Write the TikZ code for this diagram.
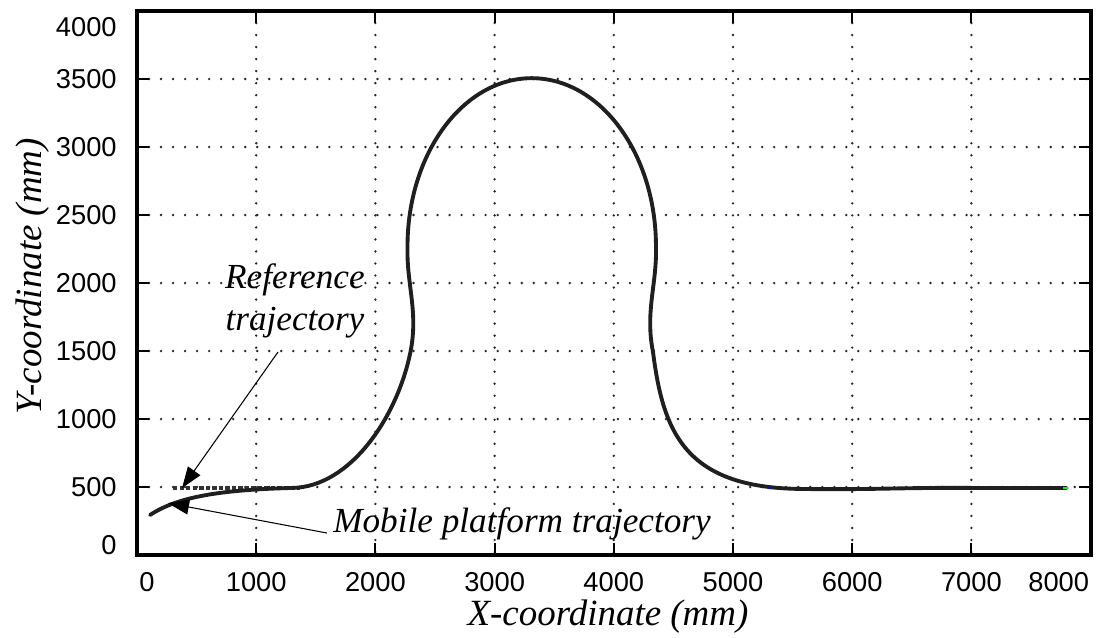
\documentclass[tikz,border=0pt]{standalone}
\usepackage{fontspec}
\setmainfont{Liberation Serif}
\newfontfamily\ticksf{Liberation Sans}
\usetikzlibrary{arrows.meta,calc}
\begin{document}
\begin{tikzpicture}[x=0.002384cm,y=0.00272cm,
 gridline/.style={line width=1.5pt, dash pattern=on 0pt off 6.83pt, line cap=round, black!85},
 frame/.style={line width=2.2pt, black},
 tickmark/.style={line width=1.2pt, black},
 ticklab/.style={font=\ticksf\fontsize{15.5}{18}\selectfont, inner sep=0pt},
 axtitle/.style={font=\itshape\fontsize{21}{25}\selectfont, inner sep=0pt},
 annot/.style={font=\itshape\fontsize{20}{24}\selectfont, inner sep=0pt},
 traj/.style={line width=2.2pt, black!88, line cap=round, line join=round},
 reftraj/.style={line width=2.2pt, black!80, dash pattern=on 2.5pt off 1.2pt},
 pointer/.style={line width=0.6pt, black, -{Triangle[length=0.42cm,width=0.3cm]}},
]
\useasboundingbox (-1149.3,-602.9) rectangle (8062.1,4080.9);
% grid
\foreach \x in {1000,2000,...,7000} \draw[gridline] (\x,4000) -- (\x,0);
\foreach \y in {500,1000,...,3500} \draw[gridline] (0,\y) -- (8000,\y);
% ticks
\foreach \x in {1000,2000,...,7000} {
  \draw[tickmark] (\x,0) -- (\x,88);
  \draw[tickmark] (\x,4000) -- (\x,3912);
}
\foreach \y in {500,1000,...,3500} {
  \draw[tickmark] (0,\y) -- (100,\y);
  \draw[tickmark] (8000,\y) -- (7900,\y);
}
% trajectories, drawn in pixel units of the reference
\begin{scope}[x=0.02cm,y=-0.02cm,shift={(-137,-555)}]
  \draw[reftraj] (173,488) -- (300,488);
  \draw[traj] (150,515) .. controls (176,498) and (215,490) .. (292,488)
    .. controls (350,487) and (397,417) .. (410,352)
    .. controls (418,312) and (406,285) .. (407,247)
    arc[start angle=180, end angle=360, x radius=124, y radius=168]
    .. controls (656,285) and (644,312) .. (652,352)
    .. controls (662,430) and (682,488) .. (800,489)
    .. controls (870,490) and (900,487.5) .. (970,488) -- (1065,488);
  \fill[blue] (767,487) rectangle (771,489.5);
  \fill[green] (1061,487) rectangle (1066,489.5);
\end{scope}
% frame
\draw[frame] (0,0) rectangle (8000,4000);
% tick labels
\node[ticklab, anchor=north west] (x0) at (17,-125) {0};
\foreach \x in {1000,2000,...,7000}
  \node[ticklab, anchor=north] (x\x) at (\x,-125) {\x};
\node[ticklab, anchor=north east] (x8000) at (7990,-125) {8000};
\node[ticklab, anchor=south east] (y0) at (-168,0) {0};
\foreach \y in {500,1000,...,3500}
  \node[ticklab, anchor=east] (y\y) at (-168,\y) {\y};
\node[ticklab, anchor=north east] (y4000) at (-168,3956) {4000};
% axis titles
\node[axtitle, anchor=base] (xtitle) at (3951,-515) {X-coordinate (mm)};
\node[axtitle, anchor=base, rotate=90] (ytitle) at (-797,2051) {Y-coordinate (mm)};
% annotations
\node[annot, anchor=base] (ref1) at (1325,1963) {Reference};
\node[annot, anchor=base] (ref2) at (1325,1654) {trajectory};
\node[annot, anchor=base west] (mob) at (1644,169) {Mobile platform trajectory};
\coordinate (reftail) at (1183,1493);
\coordinate (reftip) at (378,493);
\coordinate (mobtail) at (1594,162);
\coordinate (mobtip) at (260,382);
\draw[pointer] (reftail) -- (reftip);
\draw[pointer] (mobtail) -- (mobtip);
\end{tikzpicture}
\end{document}
